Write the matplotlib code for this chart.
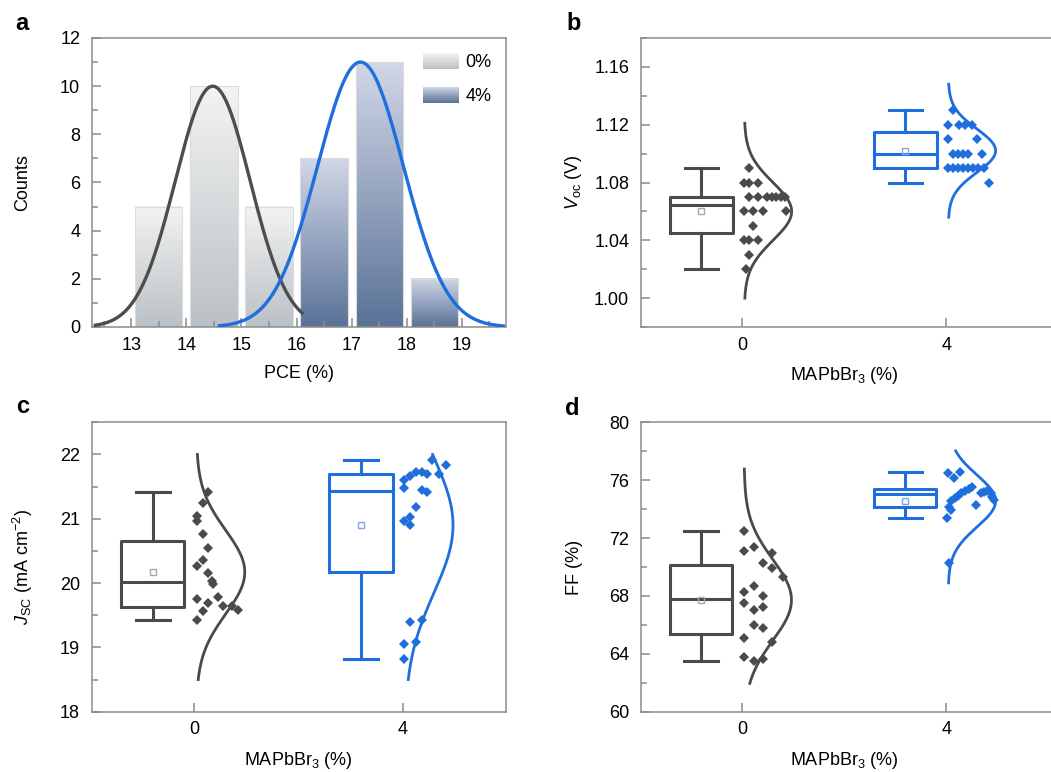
import numpy as np
import matplotlib
matplotlib.use('Agg')
import matplotlib.pyplot as plt
from matplotlib.colors import LinearSegmentedColormap
from matplotlib.patches import Patch, Rectangle
from matplotlib.legend_handler import HandlerBase

plt.rcParams['font.family'] = ['Liberation Sans', 'DejaVu Sans']
plt.rcParams['mathtext.fontset'] = 'custom'
plt.rcParams['mathtext.rm'] = 'Liberation Sans'
plt.rcParams['mathtext.it'] = 'Liberation Sans:italic'
plt.rcParams['mathtext.bf'] = 'Liberation Sans:bold'

# ---- panel a: PCE histogram
pce_bins_0 = [13.5, 14.5, 15.5]
pce_counts_0 = [5, 10, 5]
pce_bins_4 = [16.5, 17.5, 18.5]
pce_counts_4 = [7, 11, 2]
# gaussian fits (centre, sigma, peak, x-range)
fit_0 = (14.48, 0.68, 10, 12.35, 16.1)
fit_4 = (17.16, 0.78, 11, 14.6, 19.75)

groups = ['0', '4']

# ---- panel b: Voc (V)
voc_0 = [1.09, 1.08, 1.08, 1.08, 1.07, 1.07, 1.07, 1.07, 1.07, 1.07, 1.07,
         1.06, 1.06, 1.06, 1.06, 1.05, 1.04, 1.04, 1.04, 1.03, 1.02]
voc_0_jit = [0.034, 0.008, 0.034, 0.075, 0.034, 0.078, 0.123, 0.144, 0.165, 0.188, 0.209,
             0.008, 0.054, 0.103, 0.214, 0.054, 0.008, 0.034, 0.078, 0.034, 0.016]
voc_4 = [1.13, 1.12, 1.12, 1.12, 1.12, 1.11, 1.11, 1.10, 1.10, 1.10, 1.10, 1.10,
         1.09, 1.09, 1.09, 1.09, 1.09, 1.09, 1.09, 1.09, 1.08]
voc_4_jit = [0.034, 0.010, 0.064, 0.092, 0.124, 0.010, 0.152, 0.031, 0.059, 0.083, 0.108, 0.176,
             0.007, 0.031, 0.056, 0.080, 0.105, 0.129, 0.154, 0.185, 0.211]
# box: whisker low, q1, median, q3, whisker high
voc_box = [[1.020, 1.045, 1.0645, 1.070, 1.090], [1.080, 1.090, 1.100, 1.115, 1.130]]
voc_mean = [1.060, 1.102]
voc_sd = [0.020, 0.015]
voc_span = [(1.000, 1.121), (1.056, 1.148)]

# ---- panel c: Jsc (mA cm-2)
jsc_0 = [21.41, 21.25, 21.04, 20.96, 20.76, 20.54, 20.36, 20.27, 20.15, 20.04,
         19.98, 19.78, 19.75, 19.69, 19.65, 19.64, 19.58, 19.57, 19.43]
jsc_0_jit = [0.064, 0.040, 0.012, 0.012, 0.040, 0.067, 0.040, 0.012, 0.067, 0.086,
             0.091, 0.115, 0.012, 0.064, 0.139, 0.180, 0.211, 0.040, 0.012]
jsc_4 = [21.92, 21.84, 21.69, 21.73, 21.73, 21.70, 21.66, 21.61, 21.48, 21.44,
         21.41, 21.18, 21.02, 20.97, 20.91, 19.39, 19.43, 19.08, 19.05, 18.82]
jsc_4_jit = [0.139, 0.206, 0.176, 0.064, 0.091, 0.118, 0.035, 0.006, 0.006, 0.091,
             0.118, 0.064, 0.035, 0.006, 0.035, 0.035, 0.091, 0.064, 0.006, 0.006]
jsc_box = [[19.43, 19.63, 20.01, 20.65, 21.41], [18.82, 20.17, 21.43, 21.70, 21.91]]
jsc_mean = [20.17, 20.90]
jsc_sd = [0.65, 1.05]
jsc_span = [(18.5, 22.0), (18.5, 22.0)]

# ---- panel d: FF (%)
ff_0 = [72.51, 71.13, 71.41, 70.94, 70.25, 69.91, 69.33, 68.71, 68.25, 68.02,
        67.49, 67.03, 67.21, 65.99, 65.76, 64.84, 65.07, 63.80, 63.53, 63.62]
ff_0_jit = [0.010, 0.010, 0.059, 0.149, 0.103, 0.149, 0.201, 0.059, 0.010, 0.103,
            0.010, 0.059, 0.103, 0.059, 0.103, 0.149, 0.010, 0.010, 0.059, 0.103]
ff_4 = [76.48, 76.13, 76.59, 74.58, 74.75, 74.91, 75.09, 75.25, 75.39, 75.51,
        74.17, 73.94, 73.37, 74.29, 75.09, 75.20, 75.27, 75.13, 74.86, 74.63, 70.25]
ff_4_jit = [0.010, 0.038, 0.066, 0.026, 0.042, 0.059, 0.075, 0.092, 0.111, 0.127,
            0.013, 0.022, 0.005, 0.147, 0.169, 0.185, 0.201, 0.218, 0.225, 0.234, 0.015]
ff_box = [[63.53, 65.37, 67.76, 70.14, 72.51], [73.36, 74.12, 75.05, 75.41, 76.59]]
ff_mean = [67.72, 74.56]
ff_sd = [2.8, 1.8]
ff_span = [(61.96, 76.77), (68.9, 78.02)]

GRAY = '#4a4a4a'
BLUE = '#1e6fdd'
SPINE = '#8c8c8c'
FS = 13

fig = plt.figure(figsize=(10.51, 7.72), dpi=100)
W, H = 1051, 772


def axes_px(l, t, r, b):
    return fig.add_axes([l / W, 1 - b / H, (r - l) / W, (b - t) / H])


def style(ax):
    for s in ax.spines.values():
        s.set_color(SPINE)
        s.set_linewidth(1.1)
    ax.tick_params(which='both', direction='in', colors=SPINE, labelcolor='black',
                   labelsize=FS, top=False, right=False)
    ax.tick_params(which='major', length=6.5, width=1.1)
    ax.tick_params(axis='x', which='major', pad=7)
    ax.tick_params(axis='y', which='major', pad=8.5)
    ax.tick_params(which='minor', length=4, width=1.1)


class GradientHandler(HandlerBase):
    def __init__(self, cmap, n=30):
        super().__init__()
        self.cmap = cmap
        self.n = n

    def create_artists(self, legend, orig_handle, xdescent, ydescent, width, height, fontsize, trans):
        h = height / self.n
        out = []
        for i in range(self.n):
            out.append(Rectangle((-xdescent, -ydescent + i * h), width, h * 1.05,
                                 facecolor=self.cmap(i / (self.n - 1)), edgecolor='none',
                                 transform=trans))
        return out


# ---------------- panel a
cmap_0 = LinearSegmentedColormap.from_list('g0', ['#bac1c6', '#f3f3f1'])
cmap_4 = LinearSegmentedColormap.from_list('g4', ['#5a7297', '#d1d7e7'])
grad = np.linspace(0, 1, 256).reshape(-1, 1)

ax = axes_px(92, 38, 506, 327)
style(ax)
for centers, counts, cmap in [(pce_bins_0, pce_counts_0, cmap_0), (pce_bins_4, pce_counts_4, cmap_4)]:
    bars = ax.bar(centers, counts, width=0.86, facecolor='none', edgecolor='#dcdcdc', linewidth=0.8, zorder=2)
    for b in bars:
        x0, w, h = b.get_x(), b.get_width(), b.get_height()
        ax.imshow(grad, extent=[x0, x0 + w, 0, h], origin='lower', aspect='auto', cmap=cmap, zorder=1)

for (mu, sd, amp, lo, hi), col in [(fit_0, '#4d4d4d'), (fit_4, BLUE)]:
    xs = np.linspace(lo, hi, 300)
    ax.plot(xs, amp * np.exp(-(xs - mu) ** 2 / (2 * sd ** 2)), color=col, lw=2.4, zorder=3)

ax.set_xlim(12.29, 19.8)
ax.set_ylim(0, 12)
ax.set_xticks(range(13, 20))
ax.set_xticks(np.arange(12.5, 19.6, 1.0), minor=True)
ax.set_yticks(range(0, 13, 2))
ax.set_yticks(range(1, 12, 2), minor=True)
ax.set_xlabel('PCE (%)', fontsize=FS)
ax.set_ylabel('Counts', fontsize=FS)
ax.xaxis.set_label_coords(0.5, -0.131)
ax.yaxis.set_label_coords(-0.147, 0.5)

h0, h4 = Patch(label='0%'), Patch(label='4%')
ax.legend(handles=[h0, h4], handler_map={h0: GradientHandler(cmap_0), h4: GradientHandler(cmap_4)},
          loc='upper left', bbox_to_anchor=(0.7995, 0.948), frameon=False, fontsize=FS,
          borderpad=0, borderaxespad=0, handlelength=2.0, handleheight=1.0,
          labelspacing=0.85, handletextpad=0.35)


# ---------------- box panels
def box_panel(ax, data, jits, boxes, means, sds, spans, xlim):
    style(ax)
    cols = [GRAY, BLUE]
    mean_cols = ['#a8a8a8', '#7aa6ea']
    for i, (vals, jit, bx, mn, sd, (lo, hi)) in enumerate(zip(data, jits, boxes, means, sds, spans)):
        pos = i + 1
        c = cols[i]
        stats = [dict(whislo=bx[0], q1=bx[1], med=bx[2], q3=bx[3], whishi=bx[4], mean=mn, fliers=[])]
        lp = dict(color=c, linewidth=2.2)
        ax.bxp(stats, positions=[pos - 0.2], widths=0.305, capwidths=0.165, showmeans=True,
               boxprops=lp, whiskerprops=lp, capprops=lp, medianprops=lp,
               meanprops=dict(marker='s', markerfacecolor='none', markeredgecolor=mean_cols[i],
                              markersize=5, markeredgewidth=1.0),
               manage_ticks=False)
        ax.plot(pos + np.array(jit), vals, 'D', color=c, markersize=4.8, markeredgewidth=0, zorder=3)
        ys = np.linspace(lo, hi, 300)
        ax.plot(pos + 0.01 + 0.232 * np.exp(-(ys - mn) ** 2 / (2 * sd ** 2)), ys, color=c, lw=2.0, zorder=2)
    ax.set_xlim(*xlim)
    ax.set_xticks([1, 2])
    ax.set_xticklabels(groups)
    ax.set_xlabel(r'MAPbBr$_3$ (%)', fontsize=FS)
    frac = (1.5 - xlim[0]) / (xlim[1] - xlim[0])
    ax.xaxis.set_label_coords(frac, -0.1325)


# panel b
axb = axes_px(641, 38, 1056, 327)
box_panel(axb, [voc_0, voc_4], [voc_0_jit, voc_4_jit], voc_box, voc_mean, voc_sd, voc_span, (0.5034, 2.538))
axb.set_ylim(0.98, 1.18)
axb.set_yticks(np.arange(1.00, 1.17, 0.04))
axb.set_yticks(np.arange(0.98, 1.181, 0.02), minor=True)
axb.yaxis.set_major_formatter(matplotlib.ticker.FormatStrFormatter('%.2f'))
axb.set_ylabel(r'$V_{\mathrm{oc}}$ (V)', fontsize=FS)
axb.yaxis.set_label_coords(-0.137, 0.5)

# panel c
axc = axes_px(91.7, 422.3, 505.7, 711.7)
box_panel(axc, [jsc_0, jsc_4], [jsc_0_jit, jsc_4_jit], jsc_box, jsc_mean, jsc_sd, jsc_span, (0.507, 2.495))
axc.set_ylim(18, 22.5)
axc.set_yticks(range(18, 23))
axc.set_yticks(np.arange(18.5, 22.6, 1.0), minor=True)
axc.set_ylabel(r'$J_{\mathrm{SC}}$ (mA cm$^{-2}$)', fontsize=FS)
axc.yaxis.set_label_coords(-0.137, 0.5)

# panel d
axd = axes_px(640.7, 422.3, 1056, 711.7)
box_panel(axd, [ff_0, ff_4], [ff_0_jit, ff_4_jit], ff_box, ff_mean, ff_sd, ff_span, (0.5034, 2.538))
axd.set_ylim(60, 80)
axd.set_yticks(range(60, 81, 4))
axd.set_yticks(range(62, 80, 4), minor=True)
axd.set_ylabel('FF (%)', fontsize=FS)
axd.yaxis.set_label_coords(-0.139, 0.5)

# panel letters
for letter, x, y in [('a', 15, 30), ('b', 566, 30), ('c', 16, 413), ('d', 565, 415)]:
    fig.text(x / W, 1 - y / H, letter, fontsize=17, fontweight='bold', va='baseline', ha='left')

fig.savefig('out.png', dpi=100)
